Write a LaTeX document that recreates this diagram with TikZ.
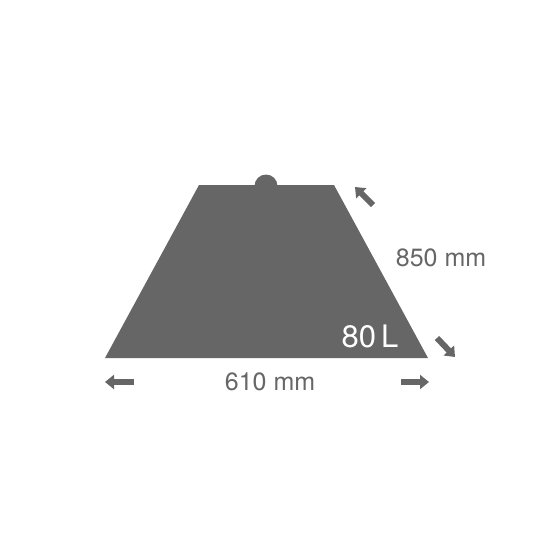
\documentclass[tikz,border=0pt]{standalone}
\usepackage{fontspec}
\setmainfont{TeX Gyre Heros}
\usetikzlibrary{arrows.meta}
\definecolor{bodygray}{HTML}{666666}
\tikzset{
  dimarrow/.style={draw=bodygray, line width=6pt, -{Triangle[length=9pt,width=14pt]}},
  dimlabel/.style={text=bodygray, font=\fontsize{25}{25}\selectfont, inner sep=0pt},
}
\begin{document}
\begin{tikzpicture}[x=1pt,y=-1pt]
\useasboundingbox (0,0) rectangle (533,533);
% body
\fill[bodygray] (199,185) -- (334,185) -- (428,358) -- (105,358) -- cycle;
\fill[bodygray] (254.5,186) arc[start angle=180,end angle=360,radius=11.5] -- cycle;
\node[text=white, font=\fontsize{31}{31}\selectfont, inner sep=0pt] (vol) at (370,336) {80\,L};
% dimensions
\node[dimlabel] (h) at (441,258) {850 mm};
\node[dimlabel] (w) at (270,382) {610 mm};
\coordinate (ht1) at (373,205); \coordinate (hh1) at (355,187);
\coordinate (ht2) at (437,338); \coordinate (hh2) at (455,357);
\coordinate (wt1) at (134,382); \coordinate (wh1) at (105,382);
\coordinate (wt2) at (401,382); \coordinate (wh2) at (429,382);
\draw[dimarrow] (ht1) -- (hh1);
\draw[dimarrow] (ht2) -- (hh2);
\draw[dimarrow] (wt1) -- (wh1);
\draw[dimarrow] (wt2) -- (wh2);
\end{tikzpicture}
\end{document}
